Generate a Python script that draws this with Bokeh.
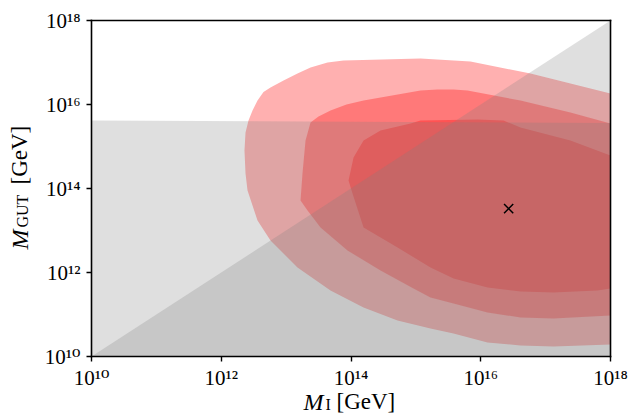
import math
from bokeh.plotting import figure
from bokeh.models import Label, FixedTicker, Range1d, LinearAxis
from bokeh.embed import file_html
from bokeh.resources import INLINE

# ---- data (all values are log10 of the mass in GeV) ----
axis_limits = (10, 18)
tick_values = [10, 12, 14, 16, 18]
tick_labels = ["10¹⁰", "10¹²", "10¹⁴", "10¹⁶", "10¹⁸"]

# 3-sigma (outer) region
sigma3_log_mi = [18.0, 16.767, 15.842, 15.071, 13.884, 13.638, 13.376, 13.175, 12.960,
                 12.759, 12.651, 12.559, 12.482, 12.420, 12.374, 12.358, 12.374, 12.405,
                 12.559, 12.759, 13.175, 13.684, 14.193, 14.717, 15.225, 15.580, 16.104,
                 16.613, 17.121, 18.0]
sigma3_log_mgut = [16.262, 16.738, 17.024, 17.095, 17.048, 17.000, 16.881, 16.738, 16.571,
                   16.405, 16.300, 16.095, 15.857, 15.619, 15.333, 14.905, 14.357, 13.952,
                   13.238, 12.762, 12.119, 11.571, 11.167, 10.857, 10.667, 10.548, 10.333,
                   10.262, 10.238, 10.286]

# 2-sigma (middle) region
sigma2_log_mi = [18.0, 17.383, 16.613, 15.796, 15.580, 15.333, 15.071, 14.193, 13.930,
                 13.684, 13.499, 13.376, 13.299, 13.252, 13.222, 13.330, 13.530, 13.946,
                 14.455, 14.963, 15.225, 15.580, 16.104, 16.613, 17.121, 18.0]
sigma2_log_mgut = [15.548, 15.810, 16.095, 16.333, 16.357, 16.357, 16.333, 16.095, 16.000,
                   15.857, 15.714, 15.571, 15.143, 14.357, 13.714, 13.476, 13.071, 12.524,
                   12.048, 11.619, 11.405, 11.262, 11.048, 10.929, 10.905, 10.976]

# 1-sigma (inner) region
sigma1_log_mi = [18.0, 17.383, 16.613, 16.351, 15.950, 15.071, 14.917, 14.455, 14.193,
                 14.039, 13.962, 14.023, 14.193, 14.717, 15.225, 15.580, 16.104, 16.613,
                 17.121, 17.800, 18.0]
sigma1_log_mgut = [14.786, 15.143, 15.452, 15.619, 15.643, 15.619, 15.548, 15.381, 15.143,
                   14.738, 14.190, 13.881, 13.071, 12.595, 12.119, 11.857, 11.643, 11.548,
                   11.524, 11.571, 11.619]

# excluded regions
band_log_mi = [10, 10, 18, 18]
band_log_mgut = [10, 15.62, 15.56, 10]
diag_log_mi = [10, 18, 18]
diag_log_mgut = [10, 18, 10]

# best fit point
best_log_mi = [16.43]
best_log_mgut = [13.52]

# ---- layout (pixels) ----
W, H = 630, 418
FRAME_L, FRAME_R, FRAME_T, FRAME_B = 91, 610, 20, 356
LABEL_FONT = "Liberation Serif"
TICK_FONT = "'Liberation Serif', 'DejaVu Serif'"

lo, hi = axis_limits
px_x = (FRAME_R - FRAME_L) / (hi - lo)
px_y = (FRAME_B - FRAME_T) / (hi - lo)
x_range = Range1d(lo - FRAME_L / px_x, hi + (W - FRAME_R) / px_x)
y_range = Range1d(lo - (H - FRAME_B) / px_y, hi + FRAME_T / px_y)

p = figure(width=W, height=H, output_backend="svg", toolbar_location=None,
           x_range=x_range, y_range=y_range, x_axis_location=None, y_axis_location=None,
           min_border=0)
p.grid.visible = False
p.background_fill_color = "white"
p.border_fill_color = "white"
p.outline_line_color = None

# contours
red_alpha = 0.31
for xs, ys in ((sigma3_log_mi, sigma3_log_mgut), (sigma2_log_mi, sigma2_log_mgut),
               (sigma1_log_mi, sigma1_log_mgut)):
    p.patch(xs, ys, fill_color="#ff0000", fill_alpha=red_alpha, line_color=None)

# excluded regions
for xs, ys in ((band_log_mi, band_log_mgut), (diag_log_mi, diag_log_mgut)):
    p.patch(xs, ys, fill_color="#808080", fill_alpha=0.25, line_color=None)

p.scatter(best_log_mi, best_log_mgut, marker="x", size=13, line_color="black", line_width=1.5)


# axes drawn at fixed locations (box around the data area)
def make_axis(side, loc, with_ticks):
    ax = LinearAxis(fixed_location=loc, bounds=axis_limits)
    ax.axis_line_width = 1.6
    ax.axis_line_color = "black"
    ax.axis_line_cap = "square"
    ax.minor_tick_line_color = None
    if with_ticks:
        ax.ticker = FixedTicker(ticks=tick_values)
        ax.major_label_overrides = {v: s for v, s in zip(tick_values, tick_labels)}
        ax.major_tick_in = 0
        ax.major_tick_out = 5
        ax.major_tick_line_width = 1.4
        ax.major_label_text_font = TICK_FONT
        ax.major_label_text_font_size = "21px"
        ax.major_label_text_color = "black"
    else:
        ax.ticker = FixedTicker(ticks=[])
        ax.major_tick_line_color = None
        ax.major_label_text_font_size = "0px"
    p.add_layout(ax, side)
    return ax


xa = make_axis("below", lo, True)
ya = make_axis("left", lo, True)
xa.major_label_standoff = 4
ya.major_label_standoff = 6
make_axis("above", hi, False)
make_axis("right", hi, False)


# axis titles composed of pieces (italic M, roman subscript, [GeV])
def lab(text, size, xo, yo, italic=False, angle=0.0):
    p.add_layout(Label(x=lo, y=lo, x_offset=xo, y_offset=yo, text=text, angle=angle,
                       text_font=LABEL_FONT, text_font_size=size,
                       text_font_style="italic" if italic else "normal",
                       text_align="left", text_baseline="alphabetic", text_color="black"))


lab("M", "24px", 212, -45, italic=True)
lab("I", "16px", 234, -48)
lab("[GeV]", "23px", 245, -45)

lab("M", "24px", -72, 107, italic=True, angle=math.pi / 2)
lab("GUT", "16px", -69, 129, angle=math.pi / 2)
lab("[GeV]", "23px", -72, 172, angle=math.pi / 2)

open("out.html", "w").write(file_html(p, INLINE))
